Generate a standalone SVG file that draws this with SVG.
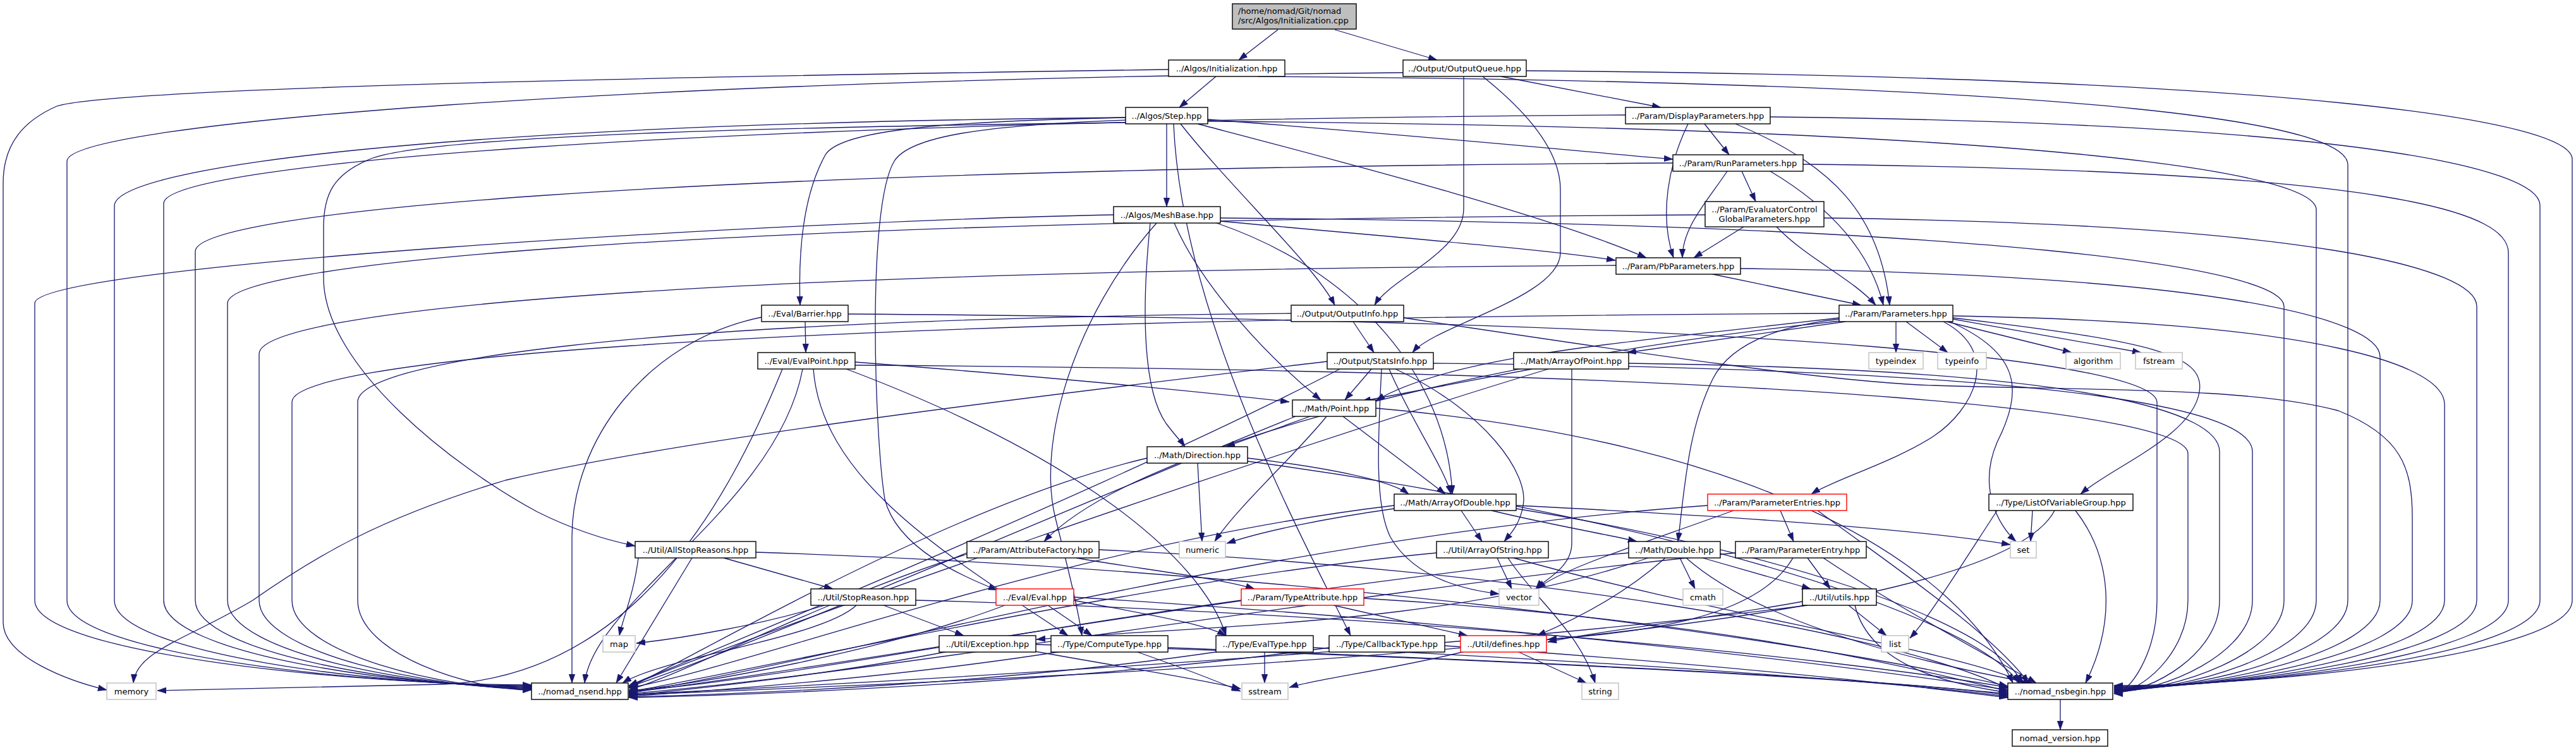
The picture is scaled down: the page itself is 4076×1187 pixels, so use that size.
<svg xmlns="http://www.w3.org/2000/svg" width="4076" height="1187" viewBox="0 0 4076 1187">
<style>
.e{fill:none;stroke:#191970;stroke-width:1.3;marker-end:url(#a)}
.n rect{fill:#fff;stroke:#000;stroke-width:1.4}
.g rect{stroke:#bfbfbf}
.r rect{stroke:#ff0000}
text{font-family:"DejaVu Sans",sans-serif;font-size:13px;fill:#000;text-anchor:middle}
</style>
<defs>
<marker id="a" markerUnits="userSpaceOnUse" markerWidth="14" markerHeight="10" refX="13" refY="4.5" orient="auto" viewBox="0 0 13 9"><path d="M0,0 L13,4.5 L0,9 z" fill="#191970" stroke="#191970" stroke-width="0.5"/></marker>
</defs>
<rect width="4076" height="1187" fill="#fff"/>
<g id="edges">
<path class="e" d="M2022,47 L1960,95"/>
<path class="e" d="M2112,47 L2274,95"/>
<path class="e" d="M1924,121 L1866,170"/>
<path class="e" d="M1849,110 C1300,118 200,135 90,168 C40,190 5,225 5,290 L5,985 C5,1040 110,1078 169,1092"/>
<path class="e" d="M1990,121 C3396,131 3715,201 3715,261 L3715,950 C3715,1035 3475,1092 3345,1092"/>
<path class="e" d="M2375,121 L2628,170"/>
<path class="e" d="M2316,121 L2316,330 C2316,400 2200,440 2175,483"/>
<path class="e" d="M2346,121 C2420,180 2469,240 2469,300 L2469,400 C2469,470 2270,515 2235,558"/>
<path class="e" d="M2415,112 C3656,122 4070,192 4070,252 L4070,950 C4070,1035 3599,1085 3345,1085"/>
<path class="e" d="M2220,115 C1004,125 106,195 106,255 L106,950 C106,1035 584,1085 841,1085"/>
<path class="e" d="M1846,196 L1846,327"/>
<path class="e" d="M1781,186 C1500,192 1330,205 1306,245 C1270,310 1263,400 1266,483"/>
<path class="e" d="M1781,190 C1560,198 1440,215 1415,255 C1370,330 1385,700 1400,790 C1420,870 1530,915 1578,934"/>
<path class="e" d="M1868,196 C1950,300 2080,420 2112,483"/>
<path class="e" d="M1895,196 C2100,250 2450,340 2605,408"/>
<path class="e" d="M1911,189 C2250,215 2450,235 2647,252"/>
<path class="e" d="M1781,194 C1300,200 700,212 590,250 C525,275 512,310 512,360 L512,440 C512,580 720,740 850,810 C920,845 975,858 1005,864"/>
<path class="e" d="M1857,196 C1870,500 2060,850 2137,1006"/>
<path class="e" d="M1781,186 C676,196 181,266 181,326 L181,950 C181,1035 610,1086 841,1086"/>
<path class="e" d="M1911,192 C3227,202 3665,272 3665,332 L3665,950 C3665,1035 3457,1093 3345,1093"/>
<path class="e" d="M2697,196 L2736,245"/>
<path class="e" d="M2671,196 C2640,260 2625,340 2648,408"/>
<path class="e" d="M2746,196 C2900,260 2975,340 2990,483"/>
<path class="e" d="M2801,185 C3714,195 4019,265 4019,325 L4019,950 C4019,1035 3581,1086 3345,1086"/>
<path class="e" d="M2572,182 C1037,192 259,262 259,322 L259,950 C259,1035 637,1087 841,1087"/>
<path class="e" d="M2756,271 L2778,319"/>
<path class="e" d="M2733,271 C2700,320 2662,360 2662,408"/>
<path class="e" d="M2801,271 C2900,330 2960,400 2980,483"/>
<path class="e" d="M2853,260 C3817,270 3969,340 3969,400 L3969,950 C3969,1035 3563,1087 3345,1087"/>
<path class="e" d="M2647,258 C1000,268 309,338 309,398 L309,950 C309,1035 655,1088 841,1088"/>
<path class="e" d="M2759,359 L2680,408"/>
<path class="e" d="M2811,359 C2860,410 2930,440 2968,483"/>
<path class="e" d="M2886,345 C3661,355 3919,425 3919,485 L3919,950 C3919,1035 3546,1088 3345,1088"/>
<path class="e" d="M2698,340 C1026,350 360,420 360,480 L360,950 C360,1035 673,1089 841,1089"/>
<path class="e" d="M1931,350 C2200,375 2450,395 2556,412"/>
<path class="e" d="M1858,353 C1900,450 2000,560 2090,633"/>
<path class="e" d="M1820,353 C1805,500 1810,620 1845,670 C1860,690 1870,700 1875,707"/>
<path class="e" d="M1925,353 C2150,430 2290,600 2298,782"/>
<path class="e" d="M1830,353 C1700,500 1640,700 1670,820 C1690,900 1705,960 1712,1006"/>
<path class="e" d="M1931,345 C3176,355 3614,425 3614,485 L3614,950 C3614,1035 3439,1094 3345,1094"/>
<path class="e" d="M1762,340 C1234,350 55,420 55,480 L55,950 C55,1035 566,1084 841,1084"/>
<path class="e" d="M2710,434 L2945,483"/>
<path class="e" d="M2754,425 C3513,435 3766,505 3766,565 L3766,950 C3766,1035 3492,1091 3345,1091"/>
<path class="e" d="M2557,420 C947,430 410,500 410,560 L410,950 C410,1035 690,1090 841,1090"/>
<path class="e" d="M1274,509 L1275,558"/>
<path class="e" d="M1342,497 C2895,507 3413,577 3413,637 L3413,950 C3413,1035 3369,1098 3345,1098"/>
<path class="e" d="M1205,502 C1020,540 905,700 905,850 L905,1081"/>
<path class="e" d="M2141,509 L2174,558"/>
<path class="e" d="M2221,503 C2600,560 2900,605 3060,610 C3300,618 3560,612 3700,650 C3800,690 3817,740 3817,820 L3817,950 C3817,1035 3510,1090 3345,1090"/>
<path class="e" d="M2043,496 C962,506 566,576 566,636 L566,950 C566,1035 745,1092 841,1092"/>
<path class="e" d="M2920,509 L2575,558"/>
<path class="e" d="M2910,503 C2600,540 2300,560 2177,634"/>
<path class="e" d="M3000,509 L3000,558"/>
<path class="e" d="M3016,509 L3082,558"/>
<path class="e" d="M3080,509 L3278,558"/>
<path class="e" d="M3090,505 L3388,558"/>
<path class="e" d="M3090,503 C3400,540 3490,560 3480,620 C3470,690 3340,740 3292,782"/>
<path class="e" d="M3075,509 C3170,560 3120,650 3060,690 C3000,730 2900,760 2866,782"/>
<path class="e" d="M2910,505 C2780,520 2730,560 2710,600 C2670,680 2665,780 2655,857"/>
<path class="e" d="M2912,508 C2400,560 1800,700 1652,857"/>
<path class="e" d="M3085,509 C3200,560 3200,620 3160,700 C3130,770 3160,830 3190,857"/>
<path class="e" d="M3090,500 C3682,510 3868,580 3868,640 L3868,950 C3868,1035 3528,1089 3345,1089"/>
<path class="e" d="M2910,496 C1074,506 462,576 462,636 L462,950 C462,1035 708,1091 841,1091"/>
<path class="e" d="M1353,573 C1700,600 1900,620 2040,636"/>
<path class="e" d="M1339,584 C1700,720 1900,880 1940,1006"/>
<path class="e" d="M1287,584 C1300,760 1500,880 1690,1006"/>
<path class="e" d="M1238,584 C1150,800 1000,1070 700,1083 L249,1093"/>
<path class="e" d="M1270,584 C1230,800 940,950 925,1081"/>
<path class="e" d="M1353,578 C2935,588 3462,658 3462,718 L3462,950 C3462,1035 3386,1097 3345,1097"/>
<path class="e" d="M2170,584 L2128,633"/>
<path class="e" d="M2198,584 C2230,660 2285,740 2296,782"/>
<path class="e" d="M2208,584 C2350,650 2420,750 2410,800 C2405,830 2390,845 2380,857"/>
<path class="e" d="M2186,584 C2180,700 2175,800 2200,850 C2240,920 2330,935 2372,940"/>
<path class="e" d="M2100,572 C1700,620 1100,690 800,760 C600,820 500,880 400,950 C300,1010 215,1030 211,1081"/>
<path class="e" d="M2268,575 C3340,585 3564,655 3564,715 L3564,950 C3564,1035 3422,1095 3345,1095"/>
<path class="e" d="M2120,584 C1800,750 1200,1000 995,1085"/>
<path class="e" d="M2424,584 L2155,635"/>
<path class="e" d="M2487,584 L2487,860 C2487,900 2440,920 2430,932"/>
<path class="e" d="M2577,575 C3328,585 3512,655 3512,715 L3512,950 C3512,1035 3403,1096 3345,1096"/>
<path class="e" d="M2450,584 C2000,720 1200,1000 995,1086"/>
<path class="e" d="M2073,659 L1940,707"/>
<path class="e" d="M2125,659 L2287,782"/>
<path class="e" d="M2099,659 C2050,720 1960,800 1922,857"/>
<path class="e" d="M2177,646 C2800,700 3100,900 3185,1081"/>
<path class="e" d="M2050,659 C1700,800 1200,1020 995,1087"/>
<path class="e" d="M1974,725 C2100,740 2200,760 2229,782"/>
<path class="e" d="M1895,733 L1902,857"/>
<path class="e" d="M1974,730 C2500,800 3100,950 3195,1081"/>
<path class="e" d="M1815,725 C1500,800 1100,1040 995,1088"/>
<path class="e" d="M2312,808 L2345,857"/>
<path class="e" d="M2360,808 C2450,830 2540,845 2590,857"/>
<path class="e" d="M2206,805 C2100,820 2000,840 1941,860"/>
<path class="e" d="M2399,800 C2800,820 3050,840 3181,862"/>
<path class="e" d="M2399,805 C2800,870 3150,980 3200,1081"/>
<path class="e" d="M2206,800 C1700,860 1200,1050 995,1089"/>
<path class="e" d="M2817,808 L2838,857"/>
<path class="e" d="M2743,808 C2600,860 2470,900 2432,932"/>
<path class="e" d="M2876,808 C3000,900 3150,1000 3210,1081"/>
<path class="e" d="M2702,800 C2000,850 1300,1050 995,1097"/>
<path class="e" d="M3216,808 L3213,857"/>
<path class="e" d="M3160,808 C3100,900 3050,980 3022,1010"/>
<path class="e" d="M3284,808 C3340,880 3350,980 3300,1081"/>
<path class="e" d="M3251,808 C3150,1000 2000,1060 995,1100"/>
<path class="e" d="M1145,883 L1318,932"/>
<path class="e" d="M1010,883 C1003,940 985,980 980,1006"/>
<path class="e" d="M1196,874 C2000,900 2800,1000 3177,1086"/>
<path class="e" d="M1095,883 L975,1081"/>
<path class="e" d="M1703,883 C1800,900 1930,915 1985,932"/>
<path class="e" d="M1739,870 C2400,900 3000,1000 3177,1090"/>
<path class="e" d="M1530,877 C1300,950 1100,1060 995,1092"/>
<path class="e" d="M2369,883 L2392,932"/>
<path class="e" d="M2386,883 C2430,950 2500,1000 2524,1081"/>
<path class="e" d="M2395,883 C2700,970 3100,1030 3205,1081"/>
<path class="e" d="M2273,875 C1800,920 1200,1060 995,1095"/>
<path class="e" d="M2658,883 L2682,932"/>
<path class="e" d="M2694,883 L2865,932"/>
<path class="e" d="M2635,883 C2560,950 2470,990 2432,1006"/>
<path class="e" d="M2608,883 C2300,990 1900,990 1640,1012"/>
<path class="e" d="M2668,883 C2800,1000 3100,1060 3215,1081"/>
<path class="e" d="M2577,875 C2000,930 1300,1060 995,1096"/>
<path class="e" d="M2860,883 L2896,932"/>
<path class="e" d="M2837,883 C2780,980 2600,1000 2449,1012"/>
<path class="e" d="M2885,883 C3000,960 3150,1040 3222,1081"/>
<path class="e" d="M2746,875 C2100,940 1400,1065 995,1098"/>
<path class="e" d="M1398,958 L1525,1006"/>
<path class="e" d="M1305,958 C1200,990 1080,1010 1007,1018"/>
<path class="e" d="M1449,950 C2200,970 2900,1040 3177,1088"/>
<path class="e" d="M1355,958 C1300,1010 1050,1040 985,1081"/>
<path class="e" d="M1658,958 L1728,1006"/>
<path class="e" d="M1699,950 C1800,970 1900,985 1940,1006"/>
<path class="e" d="M1590,958 C1400,1030 1100,1085 995,1093"/>
<path class="e" d="M1699,945 C2400,990 2900,1050 3177,1092"/>
<path class="e" d="M2110,958 L2322,1006"/>
<path class="e" d="M2158,947 C2700,980 3000,1050 3177,1094"/>
<path class="e" d="M1964,950 C1600,1000 1200,1080 995,1094"/>
<path class="e" d="M2925,958 L2985,1006"/>
<path class="e" d="M2852,952 C2700,980 2550,995 2449,1016"/>
<path class="e" d="M2935,958 C2960,1060 3100,1085 3177,1096"/>
<path class="e" d="M2860,958 C2300,1030 1400,1080 995,1099"/>
<path class="e" d="M1638,1031 C1800,1060 1900,1075 1963,1090"/>
<path class="e" d="M1639,1020 C2300,1040 2900,1070 3177,1098"/>
<path class="e" d="M1500,1031 C1300,1070 1100,1090 995,1101"/>
<path class="e" d="M1797,1031 C1880,1060 1930,1080 1963,1094"/>
<path class="e" d="M1848,1025 C2500,1050 3000,1075 3177,1100"/>
<path class="e" d="M1680,1031 C1400,1075 1100,1095 995,1102"/>
<path class="e" d="M2001,1032 L2001,1081"/>
<path class="e" d="M2078,1025 C2600,1050 3000,1080 3177,1102"/>
<path class="e" d="M1930,1031 C1600,1080 1200,1098 995,1103"/>
<path class="e" d="M2286,1022 C2700,1050 3000,1082 3177,1104"/>
<path class="e" d="M2103,1025 C1700,1080 1200,1100 995,1104"/>
<path class="e" d="M2318,1031 C2200,1060 2080,1075 2040,1088"/>
<path class="e" d="M2401,1031 L2510,1081"/>
<path class="e" d="M3260,1107 L3260,1155"/>
</g>
<g id="n_root" class="n"><rect x="1950" y="6" width="196" height="40" style="fill:#bfbfbf"/><text x="1959" y="22" style="text-anchor:start">/home/nomad/Git/nomad</text><text x="1959" y="37" style="text-anchor:start">/src/Algos/Initialization.cpp</text></g>
<g id="n_init" class="n"><rect x="1849" y="95" width="184" height="26"/><text x="1941" y="113">../Algos/Initialization.hpp</text></g>
<g id="n_oq" class="n"><rect x="2220" y="95" width="195" height="26"/><text x="2317.5" y="113">../Output/OutputQueue.hpp</text></g>
<g id="n_step" class="n"><rect x="1781" y="170" width="130" height="26"/><text x="1846" y="188">../Algos/Step.hpp</text></g>
<g id="n_disp" class="n"><rect x="2572" y="170" width="229" height="26"/><text x="2686.5" y="188">../Param/DisplayParameters.hpp</text></g>
<g id="n_run" class="n"><rect x="2647" y="245" width="206" height="26"/><text x="2750" y="263">../Param/RunParameters.hpp</text></g>
<g id="n_mesh" class="n"><rect x="1762" y="327" width="169" height="26"/><text x="1846.5" y="345">../Algos/MeshBase.hpp</text></g>
<g id="n_ecgp" class="n"><rect x="2698" y="319" width="188" height="40"/><text x="2792" y="336">../Param/EvaluatorControl</text><text x="2792" y="351">GlobalParameters.hpp</text></g>
<g id="n_pb" class="n"><rect x="2557" y="408" width="197" height="26"/><text x="2655.5" y="426">../Param/PbParameters.hpp</text></g>
<g id="n_barrier" class="n"><rect x="1205" y="483" width="137" height="26"/><text x="1273.5" y="501">../Eval/Barrier.hpp</text></g>
<g id="n_oinfo" class="n"><rect x="2043" y="483" width="178" height="26"/><text x="2132" y="501">../Output/OutputInfo.hpp</text></g>
<g id="n_params" class="n"><rect x="2910" y="483" width="180" height="26"/><text x="3000" y="501">../Param/Parameters.hpp</text></g>
<g id="n_evalpoint" class="n"><rect x="1199" y="558" width="154" height="26"/><text x="1276" y="576">../Eval/EvalPoint.hpp</text></g>
<g id="n_stats" class="n"><rect x="2100" y="558" width="168" height="26"/><text x="2184" y="576">../Output/StatsInfo.hpp</text></g>
<g id="n_aop" class="n"><rect x="2395" y="558" width="182" height="26"/><text x="2486" y="576">../Math/ArrayOfPoint.hpp</text></g>
<g id="n_typeindex" class="n g"><rect x="2957" y="558" width="86" height="26"/><text x="3000" y="576">typeindex</text></g>
<g id="n_typeinfo" class="n g"><rect x="3066" y="558" width="77" height="26"/><text x="3104.5" y="576">typeinfo</text></g>
<g id="n_algorithm" class="n g"><rect x="3269" y="558" width="86" height="26"/><text x="3312" y="576">algorithm</text></g>
<g id="n_fstream" class="n g"><rect x="3379" y="558" width="74" height="26"/><text x="3416" y="576">fstream</text></g>
<g id="n_point" class="n"><rect x="2045" y="633" width="132" height="26"/><text x="2111" y="651">../Math/Point.hpp</text></g>
<g id="n_dir" class="n"><rect x="1815" y="707" width="159" height="26"/><text x="1894.5" y="725">../Math/Direction.hpp</text></g>
<g id="n_aod" class="n"><rect x="2206" y="782" width="193" height="26"/><text x="2302.5" y="800">../Math/ArrayOfDouble.hpp</text></g>
<g id="n_pentries" class="n r"><rect x="2702" y="782" width="220" height="26"/><text x="2812" y="800">../Param/ParameterEntries.hpp</text></g>
<g id="n_lovg" class="n"><rect x="3147" y="782" width="228" height="26"/><text x="3261" y="800">../Type/ListOfVariableGroup.hpp</text></g>
<g id="n_asr" class="n"><rect x="1005" y="857" width="191" height="26"/><text x="1100.5" y="875">../Util/AllStopReasons.hpp</text></g>
<g id="n_attrf" class="n"><rect x="1530" y="857" width="209" height="26"/><text x="1634.5" y="875">../Param/AttributeFactory.hpp</text></g>
<g id="n_numeric" class="n g"><rect x="1866" y="857" width="73" height="26"/><text x="1902.5" y="875">numeric</text></g>
<g id="n_aos" class="n"><rect x="2273" y="857" width="177" height="26"/><text x="2361.5" y="875">../Util/ArrayOfString.hpp</text></g>
<g id="n_double" class="n"><rect x="2577" y="857" width="145" height="26"/><text x="2649.5" y="875">../Math/Double.hpp</text></g>
<g id="n_pentry" class="n"><rect x="2746" y="857" width="207" height="26"/><text x="2849.5" y="875">../Param/ParameterEntry.hpp</text></g>
<g id="n_set" class="n g"><rect x="3181" y="857" width="41" height="26"/><text x="3201.5" y="875">set</text></g>
<g id="n_sr" class="n"><rect x="1283" y="932" width="166" height="26"/><text x="1366" y="950">../Util/StopReason.hpp</text></g>
<g id="n_eval" class="n r"><rect x="1576" y="932" width="123" height="26"/><text x="1637.5" y="950">../Eval/Eval.hpp</text></g>
<g id="n_tattr" class="n r"><rect x="1964" y="932" width="194" height="26"/><text x="2061" y="950">../Param/TypeAttribute.hpp</text></g>
<g id="n_vector" class="n g"><rect x="2372" y="932" width="63" height="26"/><text x="2403.5" y="950">vector</text></g>
<g id="n_cmath" class="n g"><rect x="2663" y="932" width="63" height="26"/><text x="2694.5" y="950">cmath</text></g>
<g id="n_utils" class="n"><rect x="2852" y="932" width="117" height="26"/><text x="2910.5" y="950">../Util/utils.hpp</text></g>
<g id="n_map" class="n g"><rect x="954" y="1006" width="51" height="26"/><text x="979.5" y="1024">map</text></g>
<g id="n_exc" class="n"><rect x="1486" y="1006" width="153" height="26"/><text x="1562.5" y="1024">../Util/Exception.hpp</text></g>
<g id="n_ctype" class="n"><rect x="1663" y="1006" width="185" height="26"/><text x="1755.5" y="1024">../Type/ComputeType.hpp</text></g>
<g id="n_etype" class="n"><rect x="1924" y="1006" width="154" height="26"/><text x="2001" y="1024">../Type/EvalType.hpp</text></g>
<g id="n_cbtype" class="n"><rect x="2103" y="1006" width="183" height="26"/><text x="2194.5" y="1024">../Type/CallbackType.hpp</text></g>
<g id="n_defines" class="n r"><rect x="2311" y="1006" width="136" height="26"/><text x="2379" y="1024">../Util/defines.hpp</text></g>
<g id="n_list" class="n g"><rect x="2977" y="1006" width="43" height="26"/><text x="2998.5" y="1024">list</text></g>
<g id="n_memory" class="n g"><rect x="169" y="1081" width="78" height="26"/><text x="208" y="1099">memory</text></g>
<g id="n_nsend" class="n"><rect x="841" y="1081" width="153" height="26"/><text x="917.5" y="1099">../nomad_nsend.hpp</text></g>
<g id="n_sstream" class="n g"><rect x="1965" y="1081" width="73" height="26"/><text x="2001.5" y="1099">sstream</text></g>
<g id="n_string" class="n g"><rect x="2503" y="1081" width="58" height="26"/><text x="2532" y="1099">string</text></g>
<g id="n_nsbegin" class="n"><rect x="3177" y="1081" width="166" height="26"/><text x="3260" y="1099">../nomad_nsbegin.hpp</text></g>
<g id="n_version" class="n"><rect x="3184" y="1155" width="151" height="26"/><text x="3259.5" y="1173">nomad_version.hpp</text></g>
</svg>
